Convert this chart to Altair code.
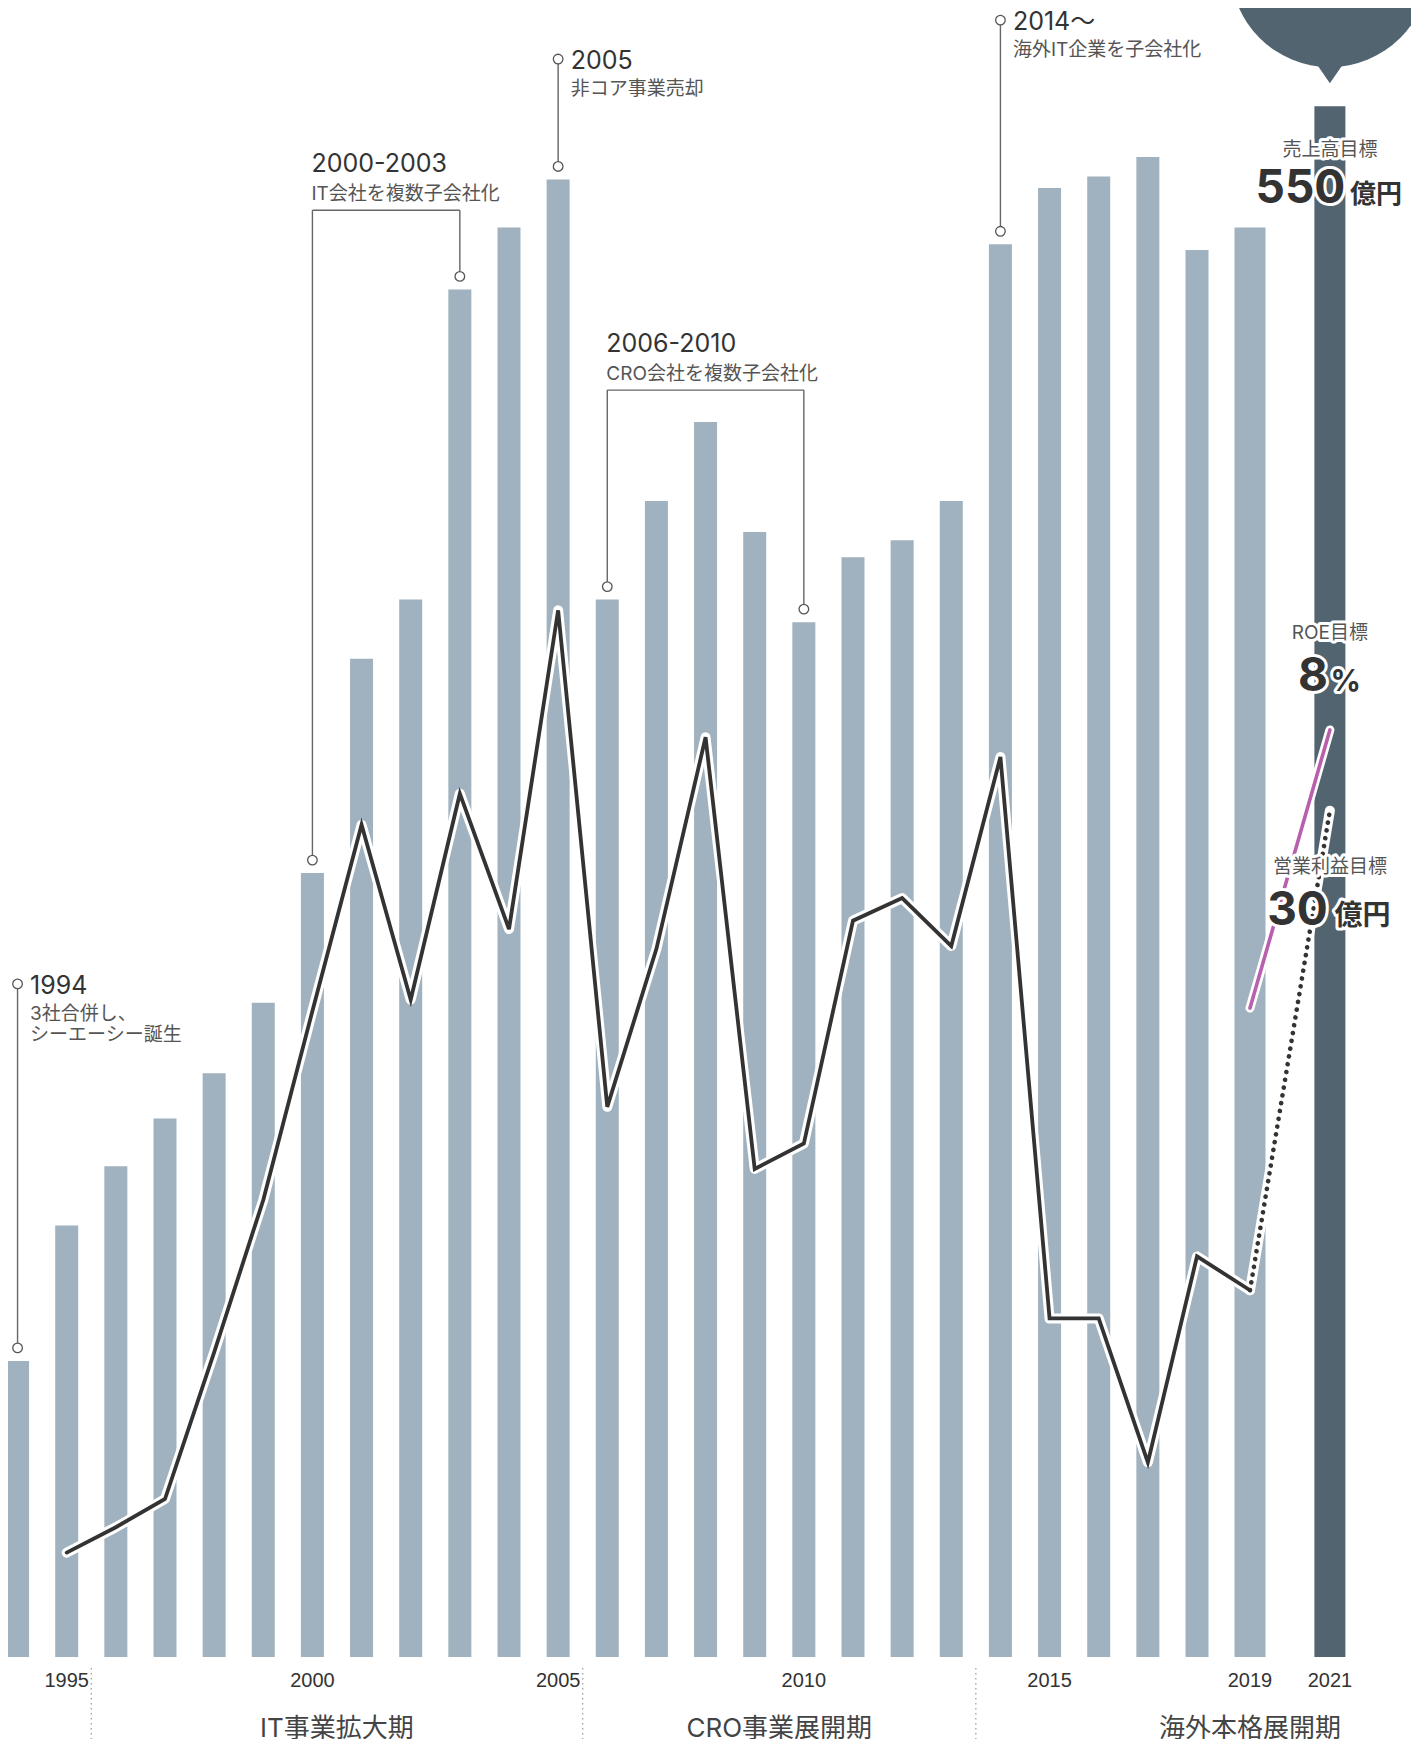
import altair as alt
import pandas as pd

# ---------------- data ----------------
years = list(range(1994, 2020))
revenue = [105, 153, 174, 191, 207, 232, 278, 354, 375, 485, 507, 524, 375,
           410, 438, 399, 367, 390, 396, 410, 501, 521, 525, 532, 499, 507]
profit_years = list(range(1995, 2020))
profit = [3.7, 4.6, 5.6, 10.8, 16.2, 22.9, 29.5, 23.3, 30.6, 25.8, 37.1, 19.5,
          25.1, 32.6, 17.3, 18.2, 26.1, 26.9, 25.2, 31.9, 12.0, 12.0, 6.9, 14.2, 13.0]
roe_years = [2019, 2021]
roe = [5.6, 8.0]
target_year = 2021
target_revenue = 550
target_profit = 30
target_roe = 8

tick_years = [1995, 2000, 2005, 2010, 2015, 2019, 2021]

period_names = ["IT事業拡大期", "CRO事業展開期", "海外本格展開期"]
period_centers = [2000.5, 2009.5, 2019]
period_bounds = [1995.5, 2005.5, 2013.5]

event_years = [1994, 2005, 2014]
event_titles = ["1994", "2005", "2014〜"]
event_notes = ["3社合併し、\nシーエーシー誕生", "非コア事業売却", "海外IT企業を子会社化"]
event_tops = [238.7, 566.7, 580.5]

range_starts = [2000, 2006]
range_ends = [2003, 2010]
range_titles = ["2000-2003", "2006-2010"]
range_notes = ["IT会社を複数子会社化", "CRO会社を複数子会社化"]
range_tops = [513.1, 449.3]

# callout bubble above the target bar (revenue units)
bubble_center = 599.1
bubble_pointer = 564.0

# ---------------- style ----------------
W, H = 1403, 1649
LIGHT = "#a0b2bf"
DARK = "#526470"
INK = "#333333"
SUB = "#555555"
PINK = "#b95fae"
JP = "Inter, Noto Sans CJK JP"
AXFONT = "Liberation Sans, Arial, sans-serif"

XS = alt.Scale(domain=[1994, 2018, 2019, 2021], range=[4.5, 1189, 1242, 1326],
               zero=False, nice=False)
REV = alt.Scale(domain=[0, 584.8], nice=False)
PROF = alt.Scale(domain=[0, 58.45], nice=False)
ROES = alt.Scale(domain=[0, 14.23], nice=False)


def xe(field="year"):
    return alt.X(f"{field}:Q", scale=XS, axis=None)


def ye(field, scale=REV):
    return alt.Y(f"{field}:Q", scale=scale, axis=None)


bar_of = dict(zip(years, revenue))
df_rev = pd.DataFrame({"year": years, "revenue": revenue})
df_prof = pd.DataFrame({"year": profit_years, "profit": profit})
df_dot = pd.DataFrame({"year": [profit_years[-1], target_year],
                       "profit": [profit[-1], target_profit]})
df_roe = pd.DataFrame({"year": roe_years, "roe": roe})
df_target = pd.DataFrame({"year": [target_year], "revenue": [target_revenue]})
df_ticks = pd.DataFrame({"year": tick_years, "label": [str(t) for t in tick_years]})

# leader lines
vert_rows = []
for yv, top in zip(event_years, event_tops):
    vert_rows.append({"year": yv, "bar": bar_of[yv], "top": top})
for s, e, top in zip(range_starts, range_ends, range_tops):
    vert_rows.append({"year": s, "bar": bar_of[s], "top": top})
    vert_rows.append({"year": e, "bar": bar_of[e], "top": top})
df_vert = pd.DataFrame(vert_rows)
df_horiz = pd.DataFrame({"start": range_starts, "end": range_ends, "top": range_tops})
df_topcirc = pd.DataFrame({"year": event_years, "top": event_tops})
df_events = pd.DataFrame({"year": event_years, "top": event_tops,
                          "title": event_titles, "note": event_notes})
df_ranges = pd.DataFrame({"year": range_starts, "top": range_tops,
                          "title": range_titles, "note": range_notes})
df_periods = pd.DataFrame({"year": period_centers, "name": period_names})
df_bounds = pd.DataFrame({"year": period_bounds})

layers = []

# callout bubble
layers.append(
    alt.Chart(pd.DataFrame({"year": [target_year], "v": [bubble_center]}))
    .mark_point(shape="circle", filled=True, size=39521, color=DARK, opacity=1)
    .encode(x=xe(), y=ye("v"))
)
layers.append(
    alt.Chart(pd.DataFrame({"year": [target_year], "v": [bubble_pointer]}))
    .mark_point(shape="M -0.69 -0.5 L 0.69 -0.5 L 0 0.5 Z", filled=True,
                size=4356, color=DARK, opacity=1)
    .encode(x=xe(), y=ye("v"))
)

# bars
layers.append(
    alt.Chart(df_rev).mark_bar(color=LIGHT)
    .encode(x=xe(), y=ye("revenue"),
            size=alt.condition(alt.datum.year == 2019, alt.value(31), alt.value(23)))
)
layers.append(
    alt.Chart(df_target).mark_bar(color=DARK, size=31)
    .encode(x=xe(), y=ye("revenue"))
)

# year labels under the bars
layers.append(
    alt.Chart(df_ticks).mark_text(align="center", baseline="alphabetic", font=AXFONT,
                                  fontSize=20, color="#333333")
    .encode(x=xe(), y=alt.value(H + 30), text="label:N")
)

# leader lines and markers
layers.append(
    alt.Chart(df_vert).mark_rule(color="#666666", strokeWidth=1.4, yOffset=-13)
    .encode(x=xe(), y=ye("bar"), y2="top:Q")
)
layers.append(
    alt.Chart(df_horiz).mark_rule(color="#666666", strokeWidth=1.4)
    .encode(x=xe("start"), x2="end:Q", y=ye("top"))
)
layers.append(
    alt.Chart(df_vert).mark_point(shape="circle", filled=True, fill="white",
                                  stroke=SUB, strokeWidth=1.3, size=92,
                                  opacity=1, yOffset=-13)
    .encode(x=xe(), y=ye("bar"))
)
layers.append(
    alt.Chart(df_topcirc).mark_point(shape="circle", filled=True, fill="white",
                                     stroke=SUB, strokeWidth=1.3, size=92, opacity=1)
    .encode(x=xe(), y=ye("top"))
)

# operating profit line, ROE line
layers.append(
    alt.Chart(df_prof).mark_line(color="white", strokeWidth=10, strokeCap="round",
                                 strokeJoin="round")
    .encode(x=xe(), y=ye("profit", PROF))
)
layers.append(
    alt.Chart(df_dot).mark_line(color="white", strokeWidth=10, strokeCap="round")
    .encode(x=xe(), y=ye("profit", PROF))
)
layers.append(
    alt.Chart(df_roe).mark_line(color="white", strokeWidth=9, strokeCap="round")
    .encode(x=xe(), y=ye("roe", ROES))
)
layers.append(
    alt.Chart(df_prof).mark_line(color=INK, strokeWidth=3.8, strokeCap="round",
                                 strokeJoin="miter")
    .encode(x=xe(), y=ye("profit", PROF))
)
layers.append(
    alt.Chart(df_dot).mark_line(color=INK, strokeWidth=4.6, strokeCap="round",
                                strokeDash=[0.1, 7.8])
    .encode(x=xe(), y=ye("profit", PROF))
)
layers.append(
    alt.Chart(df_roe).mark_line(color=PINK, strokeWidth=3.6, strokeCap="round")
    .encode(x=xe(), y=ye("roe", ROES))
)

# event annotations
layers.append(
    alt.Chart(df_events).mark_text(align="left", baseline="alphabetic", dx=12.5, dy=10,
                                   font=JP, fontSize=25, color=INK)
    .encode(x=xe(), y=ye("top"), text="title:N")
)
layers.append(
    alt.Chart(df_events).mark_text(align="left", baseline="alphabetic", dx=12.5, dy=36,
                                   font=JP, fontSize=19, color=SUB, lineBreak="\n",
                                   lineHeight=21)
    .encode(x=xe(), y=ye("top"), text="note:N")
)
layers.append(
    alt.Chart(df_ranges).mark_text(align="left", baseline="alphabetic", dx=-1, dy=-38,
                                   font=JP, fontSize=25, color=INK)
    .encode(x=xe(), y=ye("top"), text="title:N")
)
layers.append(
    alt.Chart(df_ranges).mark_text(align="left", baseline="alphabetic", dx=-1, dy=-10,
                                   font=JP, fontSize=19, color=SUB)
    .encode(x=xe(), y=ye("top"), text="note:N")
)

# target labels (with white halo)
target_labels = [
    ("売上高目標", 532.3, 19, "normal", "center", 0, SUB),
    (str(target_revenue), 515.6, 46, "bold", "right", 15.5, INK),
    ("億円", 515.6, 26, "bold", "left", 20, INK),
    ("ROE目標", 361.0, 19, "normal", "center", 0, SUB),
    (str(target_roe), 342.6, 46, "bold", "right", -2, INK),
    ("%", 342.6, 30, "bold", "left", 0.5, INK),
    ("営業利益目標", 278.0, 19, "normal", "center", 0, SUB),
    (str(target_profit), 259.6, 46, "bold", "right", -2, INK),
    ("億円", 259.6, 28, "bold", "left", 4.5, INK),
]
for txt, yv, fs, fw, al, dx, col in target_labels:
    d = pd.DataFrame({"year": [target_year], "v": [yv], "t": [txt]})
    layers.append(
        alt.Chart(d).mark_text(align=al, baseline="alphabetic", dx=dx, font=JP,
                               fontSize=fs, fontWeight=fw, fill="white", stroke="white",
                               strokeWidth=6, strokeJoin="round")
        .encode(x=xe(), y=ye("v"), text="t:N")
    )
    layers.append(
        alt.Chart(d).mark_text(align=al, baseline="alphabetic", dx=dx, font=JP,
                               fontSize=fs, fontWeight=fw, color=col)
        .encode(x=xe(), y=ye("v"), text="t:N")
    )

# periods under the axis
layers.append(
    alt.Chart(df_bounds).mark_rule(color="#999999", strokeWidth=1.2, strokeDash=[1.5, 3.5])
    .encode(x=xe(), y=alt.value(H + 11), y2=alt.value(H + 82))
)
layers.append(
    alt.Chart(df_periods).mark_text(align="center", baseline="alphabetic", font=JP,
                                    fontSize=26, color="#444444")
    .encode(x=xe(), y=alt.value(H + 80), text="name:N")
)

chart = (
    alt.layer(*layers)
    .resolve_scale(y="independent")
    .properties(width=W, height=H,
                autosize=alt.AutoSizeParams(type="none"),
                padding={"left": 0, "top": 0, "right": 0, "bottom": 82},
                background="white")
    .configure_view(stroke=None)
)

chart.save("out.html", embed_options={"renderer": "svg", "actions": False})
